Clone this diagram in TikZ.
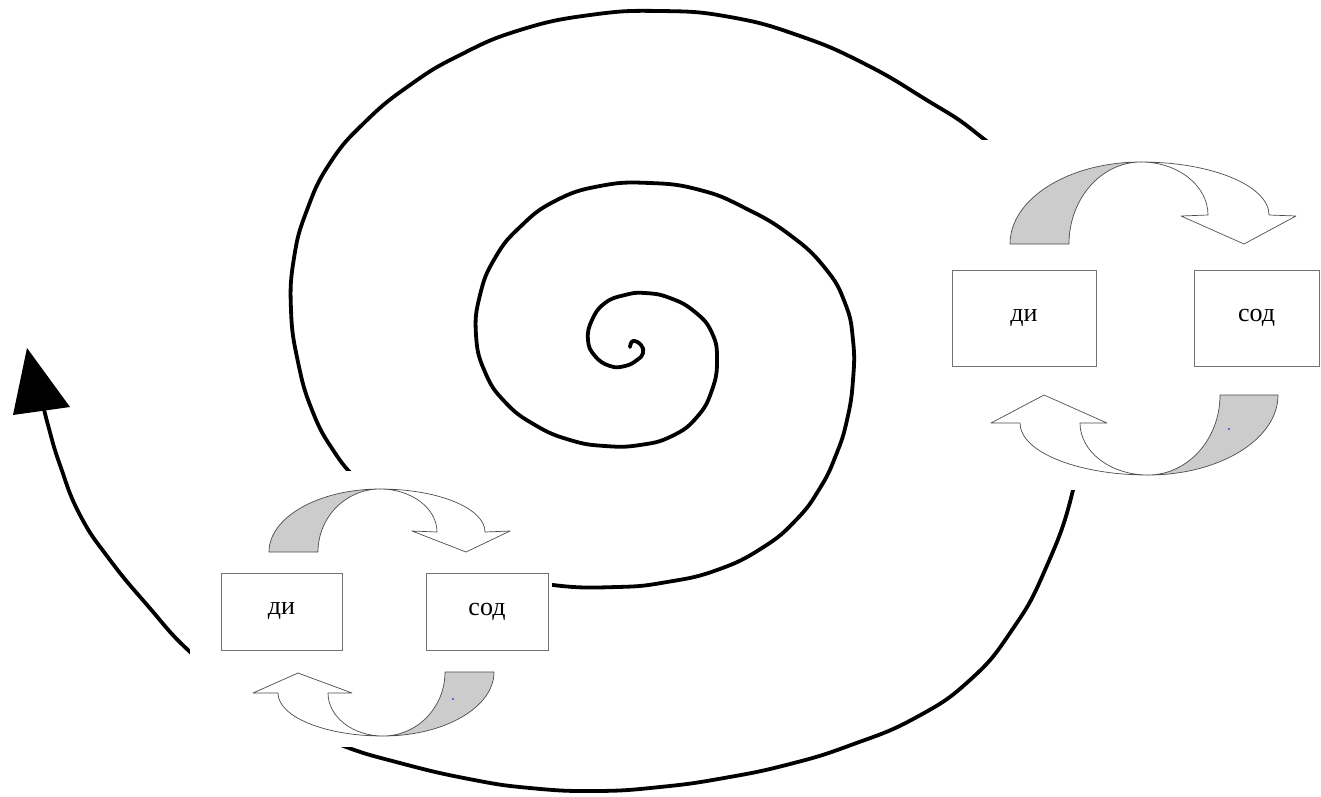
\documentclass[tikz,border=0pt]{standalone}
\usepackage{fontspec}
\setmainfont{Liberation Serif}
\begin{document}
\begin{tikzpicture}[x=1pt,y=-1pt,
  spiral/.style={line width=3.8pt,line cap=round,line join=round},
  box/.style={draw=black!55,line width=0.9pt,fill=white,inner sep=0pt,
    font=\fontsize{26}{28}\selectfont},
  garrow/.style={fill=black!20,draw=black!70,line width=0.7pt,line join=round},
  warrow/.style={fill=white,draw=black!70,line width=0.7pt,line join=round},
  panel/.style={fill=white}]
\useasboundingbox (0,0) rectangle (1321,796);
\fill[white] (0,0) rectangle (1321,796);
% spiral
\draw[spiral] plot[smooth,tension=0.8] coordinates {
 (630,347) (633,341) (641,345) (643,353) (637,360) (625,366) (610,366)
 (595,356) (588,340) (592,320) (605,303) (625,295) (645,293) (670,298)
 (695,312) (712,333) (717,360) (712,390) (697,417) (672,436) (640,445)
 (605,446) (570,440) (535,425) (505,402) (485,372) (476,335) (480,295)
 (495,258) (520,227) (555,201) (600,186) (650,183) (700,190) (745,208)
 (790,235) (825,268) (845,303) (853,340) (853,380) (847,420) (836,455)
 (820,488) (796,520) (762,548) (717,570) (667,582) (617,587) (553,585)
 (495,572) (440,548) (395,515) (360,483) (333,450) (312,410) (298,362)
 (291,310) (294,258) (307,210) (330,163) (365,122) (410,85) (460,55)
 (520,30) (590,15) (660,11) (730,17) (800,36) (865,64) (925,99)
 (975,132) (1020,175) (1058,240) (1080,320) (1085,405) (1073,490)
 (1045,570) (1012,630) (970,680) (915,718) (851,745) (790,764)
 (724,778) (660,787) (596,791) (530,788) (469,779) (400,763) (341,745)
 (288,720) (236,688) (188,650) (148,606) (110,560) (80,515) (60,465)
 (48,425) (42,400)};
\fill (27,348) -- (13,415) -- (70,407) -- cycle;
% panels
\fill[panel] (945,140) rectangle (1321,490);
\fill[panel] (190,471) rectangle (552,747);
% right panel
\node[box,minimum width=144pt,minimum height=96pt] (di2) at (1024,318) {ди};
\node[box,minimum width=125pt,minimum height=96pt] (sod2) at (1256.5,318) {сод};
\filldraw[garrow] (1010,244) arc[start angle=180,end angle=270,x radius=131,y radius=82]
  arc[start angle=270,end angle=180,x radius=72,y radius=82] -- cycle;
\filldraw[warrow] (1141,162) arc[start angle=270,end angle=360,x radius=128,y radius=53]
  -- (1296,216) -- (1244,244) -- (1181,216) -- (1208,215)
  arc[start angle=0,end angle=-90,x radius=67,y radius=53] -- cycle;
\filldraw[garrow] (1278,395) arc[start angle=0,end angle=90,x radius=130,y radius=80]
  arc[start angle=90,end angle=0,x radius=72,y radius=80] -- cycle;
\filldraw[warrow] (1148,475) arc[start angle=90,end angle=180,x radius=128,y radius=52]
  -- (991,423) -- (1044,395) -- (1107,423) -- (1080,423)
  arc[start angle=180,end angle=90,x radius=68,y radius=52] -- cycle;
\fill[blue] (1229,429) circle[radius=0.8];
% left panel
\node[box,minimum width=121pt,minimum height=77pt] (di1) at (281.5,611.5) {ди};
\node[box,minimum width=122pt,minimum height=77pt] (sod1) at (487,611.5) {сод};
\filldraw[garrow] (269,552) arc[start angle=180,end angle=270,x radius=111,y radius=63]
  arc[start angle=270,end angle=180,x radius=62,y radius=63] -- cycle;
\filldraw[warrow] (380,489) arc[start angle=270,end angle=360,x radius=105,y radius=43]
  -- (510,531) -- (466,552) -- (412,531) -- (437,532)
  arc[start angle=0,end angle=-90,x radius=57,y radius=43] -- cycle;
\filldraw[garrow] (494,672) arc[start angle=0,end angle=90,x radius=111,y radius=64]
  arc[start angle=90,end angle=0,x radius=62,y radius=64] -- cycle;
\filldraw[warrow] (383,736) arc[start angle=90,end angle=180,x radius=105,y radius=43]
  -- (253,693) -- (298,673) -- (352,693) -- (328,693)
  arc[start angle=180,end angle=90,x radius=55,y radius=43] -- cycle;
\fill[blue] (453,699) circle[radius=0.8];
\end{tikzpicture}
\end{document}
